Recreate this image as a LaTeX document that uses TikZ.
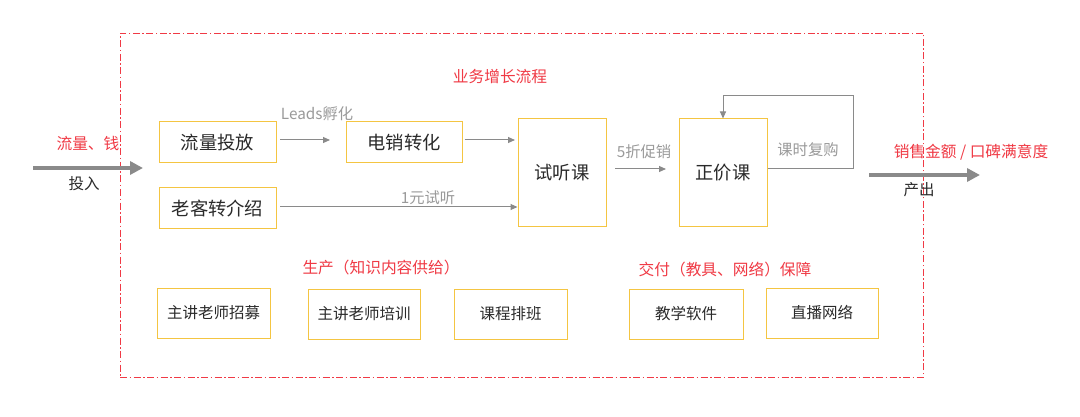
\documentclass[tikz,border=0pt]{standalone}
\usepackage{fontspec}
\setmainfont{Noto Sans CJK SC}
\usetikzlibrary{arrows.meta}
\definecolor{boxy}{HTML}{F4C542}
\definecolor{redt}{HTML}{F03A45}
\definecolor{arrg}{HTML}{8A8A8A}
\definecolor{txtg}{HTML}{9A9A9A}
\definecolor{txtk}{HTML}{2A2A2A}
\tikzset{
  ybox/.style={draw=boxy, line width=1pt, inner sep=0pt, text=txtk, font=\fontsize{18.3}{21}\selectfont},
  sbox/.style={draw=boxy, line width=1pt, inner sep=0pt, text=txtk, font=\fontsize{15.5}{18}\selectfont},
  redlab/.style={text=redt, inner sep=0pt, font=\fontsize{15.7}{18}\selectfont},
  graylab/.style={text=txtg, inner sep=0pt, font=\fontsize{15.3}{18}\selectfont},
  blklab/.style={text=txtk, inner sep=0pt, font=\fontsize{15.5}{18}\selectfont},
  garrow/.style={draw=arrg, line width=1pt, -{Triangle[length=7pt,width=6pt]}},
  bigarrow/.style={draw=arrg, line width=4pt, -{Triangle[length=13pt,width=13pt]}},
}
\begin{document}
\begin{tikzpicture}[x=1pt,y=-1pt]
\useasboundingbox (0,0) rectangle (1080,417);
\fill[white] (0,0) rectangle (1080,417);
% frame
\node[draw=redt, line width=0.9pt, dash pattern=on 7pt off 2.5pt on 1.5pt off 2.5pt, minimum width=803pt, minimum height=344pt, inner sep=0pt] (frame) at (521.5,205) {};
\node[redlab] (title) at (500,77) {业务增长流程};
% top boxes
\node[ybox, minimum width=117pt, minimum height=41pt] (llt) at (217.5,142.5) {流量投放};
\node[ybox, minimum width=117pt, minimum height=41pt] (lkz) at (217.5,208) {老客转介绍};
\node[ybox, minimum width=116pt, minimum height=41pt] (dxz) at (404,142.5) {电销转化};
\node[ybox, minimum width=88pt, minimum height=108pt] (stk) at (562,173) {试听课};
\node[ybox, minimum width=88pt, minimum height=108pt] (zjk) at (723,173) {正价课};
% arrows
\coordinate (a1s) at (280,140);
\coordinate (a1e) at (330,140);
\draw[garrow] (a1s) -- (a1e);
\node[graylab] (leads) at (317,114) {Leads孵化};
\draw[garrow] (dxz.east |- 0,140) ++(2,0) -- (515,140);
\coordinate (y1s) at (280,207);
\draw[garrow] (y1s) -- (stk.west |- y1s);
\node[graylab] (yy) at (428,198) {1元试听};
\coordinate (z1s) at (615,169);
\coordinate (z1e) at (666,169);
\draw[garrow] (z1s) -- (z1e);
\node[graylab] (zk) at (644,152) {5折促销};
% loop
\coordinate (lp1) at (853,169);
\coordinate (lp2) at (853,96);
\coordinate (lp3) at (723,96);
\draw[garrow] (zjk.east |- lp1) -- (lp1) -- (lp2) -- (lp3) -- (zjk.north);
\node[graylab] (ks) at (808,150) {课时复购};
% input / output
\coordinate (ins) at (33,168);
\coordinate (ine) at (143,168);
\draw[bigarrow] (ins) -- (ine);
\node[redlab] (lq) at (88,143) {流量、钱};
\node[blklab] (tr) at (84,184) {投入};
\coordinate (outs) at (869,175);
\coordinate (oute) at (980,175);
\draw[bigarrow] (outs) -- (oute);
\node[redlab] (xs) at (971,152) {销售金额 / 口碑满意度};
\node[blklab] (cc) at (919,190) {产出};
% bottom
\node[redlab] (sc) at (381,268) {生产（知识内容供给）};
\node[sbox, minimum width=113pt, minimum height=50pt] (b1) at (213.5,313) {主讲老师招募};
\node[sbox, minimum width=112pt, minimum height=50pt] (b2) at (364,314) {主讲老师培训};
\node[sbox, minimum width=113pt, minimum height=50pt] (b3) at (510.5,314) {课程排班};
\node[redlab] (jf) at (725,270) {交付（教具、网络）保障};
\node[sbox, minimum width=114pt, minimum height=50pt] (b4) at (686,314) {教学软件};
\node[sbox, minimum width=112pt, minimum height=50pt] (b5) at (822,313) {直播网络};
\end{tikzpicture}
\end{document}
